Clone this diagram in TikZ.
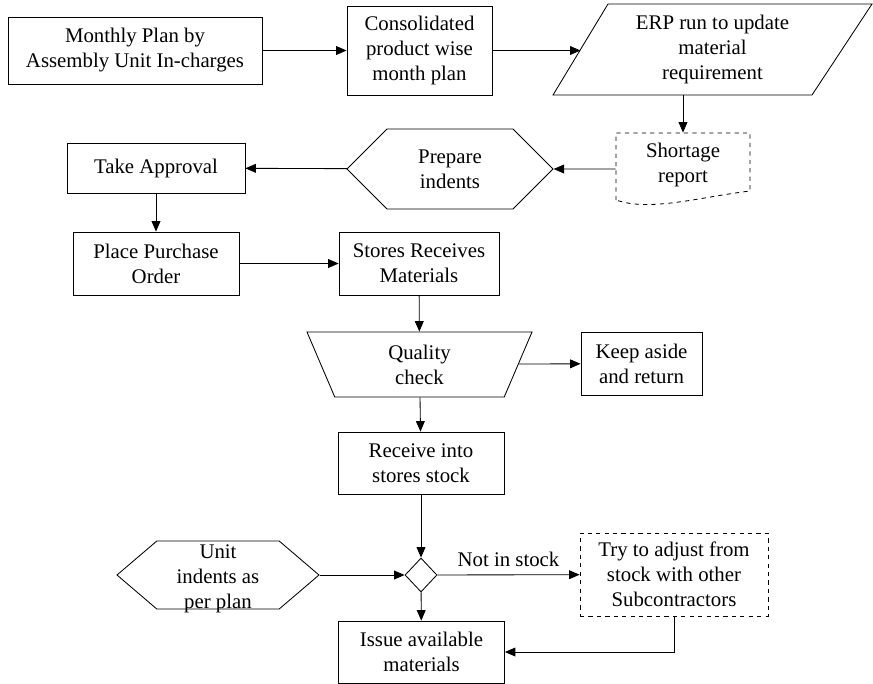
\documentclass[tikz,border=0pt]{standalone}
\usepackage{fontspec}
\setmainfont{Liberation Serif}
\usetikzlibrary{shapes.geometric,shapes.symbols,arrows.meta}

\tikzset{
  every node/.style={font=\fontsize{14.8}{17.8}\selectfont, align=center, inner sep=0pt},
  sz/.style 2 args={minimum width=#1*0.25mm, minimum height=#2*0.25mm},
  procbox/.style={draw, rectangle},
  checkbox/.style={draw, trapezium, trapezium stretches body,
    trapezium left angle=125, trapezium right angle=125},
  hexa/.style={draw, signal, signal to=west and east, signal pointer angle=#1},
  decide/.style={draw, diamond},
  arr/.style={-{Triangle[length=2.6mm,width=2.2mm]}},
}

\begin{document}
\begin{tikzpicture}[x=0.25mm, y=-0.25mm, line width=0.6pt]
  \clip (0,0) rectangle (873,683);

  % top row
  \node[procbox, sz={254}{67}] (plan) at (135,50.5) {Monthly Plan by\\Assembly Unit In-charges};
  \node[procbox, sz={145}{89}] (cons) at (419.5,50.5) {Consolidated\\product wise\\month plan};

  % ERP run, drawn as a slanted data box
  \node[sz={319}{91}] (erp) at (712.5,49.5) {ERP run to update\\material\\requirement};
  \draw (553,95) -- (608,4) -- (872,4) -- (812,95) -- cycle;
  \coordinate (erpin) at (580.5,50.5);

  % shortage report, drawn as a document
  \node[sz={134}{64}] (short) at (683,165) {Shortage\\report};
  \draw[dashed] (616,200) -- (616,133) -- (750,133) -- (750,191)
    .. controls (700,197) and (650,212) .. (616,200);

  \node[hexa=90, sz={206}{80}] (prep) at (450,169) {Prepare\\indents};
  \node[procbox, sz={178}{50}] (take) at (156,168) {Take Approval};
  \node[procbox, sz={166}{63}] (place) at (156,263.5) {Place Purchase\\Order};
  \node[procbox, sz={160}{63}] (stores) at (419,263.5) {Stores Receives\\Materials};
  \node[checkbox, sz={225}{65}] (qc) at (419.5,364.5) {Quality\\check};
  \node[procbox, sz={121}{63}] (keep) at (641.5,363.5) {Keep aside\\and return};
  \node[procbox, sz={166}{62}] (recv) at (421,463) {Receive into\\stores stock};

  % bottom part
  \node[decide, sz={32}{34}] (dec) at (421,575) {};
  \node[hexa=81, sz={202}{68}] (unit) at (218,575)
    {\smash{\raisebox{-2.2mm}{\parbox[c]{3cm}{\centering Unit\\indents as\\per plan}}}};
  \node[procbox, dashed, sz={188}{83}] (try) at (674,574.5) {Try to adjust from\\stock with other\\Subcontractors};
  \node[procbox, sz={166}{62}] (issue) at (421.5,652) {Issue available\\materials};

  % connectors
  \draw[arr] (plan) -- (cons);
  \draw[arr] (cons) -- (erpin);
  \draw[arr] (erp.south -| short.north) -- (short.north);
  \draw[arr] (short.west |- prep) -- (prep);
  \draw[arr] (prep) -- (take);
  \draw[arr] (take) -- (place);
  \draw[arr] (place) -- (stores);
  \draw[arr] (stores) -- (qc);
  \draw[arr] (qc) -- (keep);
  \draw[arr] (qc) -- (recv);
  \draw[arr] (recv) -- (dec);
  \draw[arr] (unit) -- (dec);
  \draw[arr] (dec) -- (try) node[midway, above=2mm] {Not in stock};
  \draw[arr] (dec) -- (issue);
  \draw[arr] (try.south) |- (issue.east);
\end{tikzpicture}
\end{document}
